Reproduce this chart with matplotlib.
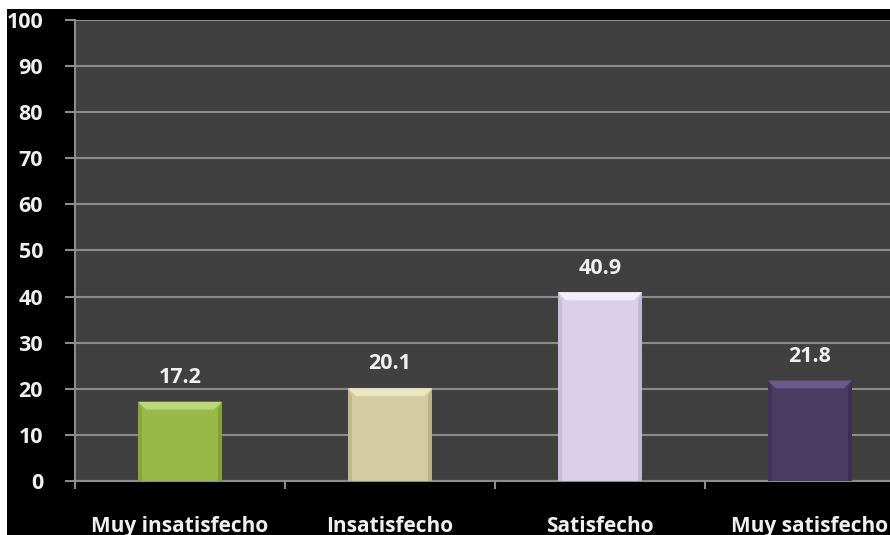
import numpy as np
import matplotlib.pyplot as plt
from matplotlib.patches import Polygon, Rectangle

categories = ['Muy insatisfecho', 'Insatisfecho', 'Satisfecho', 'Muy satisfecho']
values = [17.2, 20.1, 40.9, 21.8]
face_colors = ['#98b947', '#d3cca0', '#d9cfe8', '#4a3b63']
top_colors = ['#bcd977', '#ece6c4', '#f3eefa', '#6c5a8a']
side_colors = ['#7e9c33', '#b5ad82', '#bdb3cc', '#3a2d50']
yticks = np.arange(0, 101, 10)

plt.rcParams['font.family'] = ['Open Sans', 'DejaVu Sans']

W, H = 890, 535
fig = plt.figure(figsize=(W / 100, H / 100), dpi=100, facecolor='black')

# white frame strips at top and left
fig.patches.append(Rectangle((0, 1 - 9 / H), 1, 9 / H, transform=fig.transFigure,
                             facecolor='white', edgecolor='none', zorder=0))
fig.patches.append(Rectangle((0, 0), 7 / W, 1, transform=fig.transFigure,
                             facecolor='white', edgecolor='none', zorder=0))

ax = fig.add_axes([75 / W, (H - 481) / H, (W - 75) / W, (481 - 20) / H])
ax.set_facecolor('#404040')
ax.set_ylim(0, 100)
ax.set_xlim(-0.5, 3.381)

x = np.arange(len(categories))
bw = 0.40
ax.bar(x, values, width=bw, color=face_colors, edgecolor='none', zorder=3)

# bevel: light top band and darker side edges
bx = 0.038   # horizontal bevel, data units
by = 1.7     # vertical bevel, data units
for xi, v, tc, sc in zip(x, values, top_colors, side_colors):
    l, r = xi - bw / 2, xi + bw / 2
    ax.add_patch(Polygon([(l, v), (r, v), (r - bx, v - by), (l + bx, v - by)],
                         closed=True, facecolor=tc, edgecolor='none', zorder=4))
    ax.add_patch(Polygon([(l, v), (l + bx * 0.5, v - by), (l + bx * 0.5, 0), (l, 0)],
                         closed=True, facecolor=sc, edgecolor='none', alpha=0.6, zorder=4))
    ax.add_patch(Polygon([(r, v), (r - bx * 0.5, v - by), (r - bx * 0.5, 0), (r, 0)],
                         closed=True, facecolor=sc, edgecolor='none', alpha=0.8, zorder=4))
    ax.text(xi, v + 4.1, f'{v:.1f}', ha='center', va='baseline', color='#f0f0f0',
            fontsize=15.5, fontweight='bold', zorder=5)

ax.set_yticks(yticks)
ax.set_yticklabels([str(t) for t in yticks], color='#f0f0f0', fontsize=15.5,
                   fontweight='bold')
ax.yaxis.grid(True, color='#8c8c8c', linewidth=1.5, zorder=1)
ax.set_axisbelow(True)

ax.set_xticks(x)
ax.set_xticklabels(categories, color='#f0f0f0', fontsize=15, fontweight='bold')
ax.set_xticks(np.arange(-0.5, 3.5, 1.0), minor=True)
ax.tick_params(axis='x', which='major', length=0, pad=25)
ax.tick_params(axis='x', which='minor', length=6, color='#8c8c8c', width=1.5)
ax.tick_params(axis='y', length=7, color='#8c8c8c', width=1.5, pad=16)

for s in ['top', 'right']:
    ax.spines[s].set_visible(False)
for s in ['left', 'bottom']:
    ax.spines[s].set_color('#8c8c8c')
    ax.spines[s].set_linewidth(1.5)

fig.savefig('out.png', dpi=100, facecolor='black')
